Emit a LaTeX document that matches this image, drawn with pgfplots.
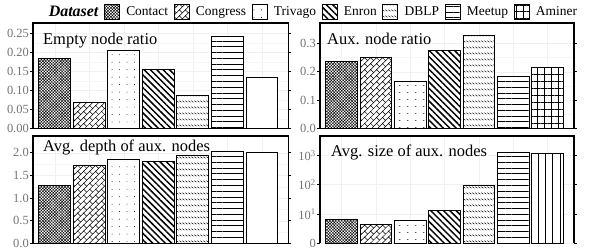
\documentclass[border=0pt]{standalone}
\usepackage{fontspec}
\setmainfont{Liberation Serif}
\usepackage{pgfplots}
\pgfplotsset{compat=1.18}
\usetikzlibrary{patterns,patterns.meta}

\pgfdeclarepattern{name=brick, type=uncolored, bottom left={\pgfpoint{-0.5pt}{-0.5pt}}, top right={\pgfpoint{6.5pt}{6.5pt}}, tile size={\pgfpoint{6pt}{6pt}}, code={\pgfsetlinewidth{0.5pt}\pgfpathmoveto{\pgfpoint{-0.5pt}{-0.5pt}}\pgfpathlineto{\pgfpoint{6.5pt}{6.5pt}}\pgfpathmoveto{\pgfpoint{3pt}{3pt}}\pgfpathlineto{\pgfpoint{0pt}{6pt}}\pgfusepath{stroke}}}
\pgfdeclarepattern{name=wavy, type=uncolored, bottom left={\pgfpointorigin}, top right={\pgfpoint{3pt}{5.5pt}}, tile size={\pgfpoint{3pt}{5.5pt}}, code={\pgfsetlinewidth{0.5pt}\pgfpathmoveto{\pgfpoint{0.3pt}{3.6pt}}\pgfpathlineto{\pgfpoint{2.4pt}{2.0pt}}\pgfusepath{stroke}}}
\pgfdeclarepattern{name=dashes, type=uncolored, bottom left={\pgfpointorigin}, top right={\pgfpoint{7.5pt}{7pt}}, tile size={\pgfpoint{7.5pt}{7pt}}, code={\pgfsetlinewidth{0.5pt}\pgfpathmoveto{\pgfpoint{3pt}{3.5pt}}\pgfpathlineto{\pgfpoint{4.8pt}{3.5pt}}\pgfusepath{stroke}}}

\tikzset{
  pContact/.style={fill=white, postaction={pattern={Hatch[angle=45, distance=2.1pt, line width=0.45pt]}}},
  pCongress/.style={fill=white, postaction={pattern=brick}},
  pTrivago/.style={fill=white, postaction={pattern={Dots[distance=7.5pt, radius=0.45pt]}}},
  pTrivagoD/.style={fill=white, postaction={pattern=dashes}},
  pEnron/.style={fill=white, postaction={pattern={Lines[angle=-45, distance=4.5pt, line width=1.5pt]}}},
  pDBLP/.style={fill=white, postaction={pattern=wavy}},
  pMeetup/.style={fill=white, postaction={pattern={Lines[angle=0, distance=5.8pt, line width=0.8pt]}}},
  pAminerGrid/.style={fill=white, postaction={pattern={Hatch[angle=0, distance=7pt, line width=0.8pt]}}},
  pAminerV/.style={fill=white, postaction={pattern={Lines[angle=90, distance=7.3pt, line width=0.8pt]}}},
  pAminerW/.style={fill=white},
}
\newcommand{\titlefont}{\fontsize{16.5}{19}\selectfont}

\pgfplotsset{
  panel/.style={
    scale only axis, anchor=north west,
    xmin=-0.63, xmax=6.77, ymin=0,
    xtick={0,1,2,3,4,5,6}, xticklabels={}, xtick style={draw=none},
    xmajorgrids, ymajorgrids,
    grid style={gray!12, line width=0.5pt},
    minor grid style={gray!7, line width=0.4pt},
    axis line style={line width=1.5bp, black},
    tick align=outside, major tick length=3bp, minor tick length=0pt,
    ytick style={black, line width=0.7pt},
    yticklabel style={color=black!55, font=\fontsize{12.5}{14}\selectfont, inner sep=1bp},
    /pgf/number format/assume math mode=true,
  },
  bars/.style={ybar, bar shift=0pt, bar width=0.92, draw=black, line width=1pt, forget plot},
}

\begin{document}
\begin{tikzpicture}
\path[use as bounding box] (0,0) rectangle (589bp,-249bp);

% top left
\begin{axis}[panel, at={(33bp,-23bp)}, width=255.5bp, height=105.5bp,
  ymax=0.277, ytick={0,0.05,0.1,0.15,0.2,0.25}, minor y tick num=1, yminorgrids,
  yticklabel style={/pgf/number format/.cd, fixed, fixed zerofill, precision=2},
  legend image code/.code={\draw[#1, line width=1pt] (0bp,-7.5bp) rectangle (15bp,7.5bp);},
  legend style={at={(1.085,1.104)}, anchor=center, draw=none, fill=none,
    legend columns=-1, font=\fontsize{13.5}{15}\selectfont,
    nodes={inner sep=1bp},
    /tikz/every even column/.append style={column sep=4.5bp},
    /tikz/every odd column/.append style={column sep=5.4bp}},
]
\addplot[bars, pContact]  coordinates {(0,0.184)};
\addplot[bars, pCongress] coordinates {(1,0.068)};
\addplot[bars, pTrivago]  coordinates {(2,0.2035)};
\addplot[bars, pEnron]    coordinates {(3,0.155)};
\addplot[bars, pDBLP]     coordinates {(4,0.087)};
\addplot[bars, pMeetup]   coordinates {(5,0.242)};
\addplot[bars, pAminerW]  coordinates {(6,0.135)};
\addlegendimage{empty legend}\addlegendentry{\fontsize{16}{18}\selectfont\bfseries\itshape Dataset}
\addlegendimage{pContact}\addlegendentry{Contact}
\addlegendimage{pCongress}\addlegendentry{Congress}
\addlegendimage{pTrivago}\addlegendentry{Trivago}
\addlegendimage{pEnron}\addlegendentry{Enron}
\addlegendimage{pDBLP}\addlegendentry{DBLP}
\addlegendimage{pMeetup}\addlegendentry{Meetup}
\addlegendimage{pAminerGrid}\addlegendentry{Aminer}
\node[anchor=north west, inner sep=0pt, font=\titlefont] at ([xshift=10bp,yshift=-10bp]rel axis cs:0,1) {Empty node ratio};
\end{axis}

% top right
\begin{axis}[panel, at={(320bp,-23bp)}, width=254bp, height=105.5bp,
  ymax=0.372, ytick={0,0.1,0.2,0.3}, minor y tick num=1, yminorgrids,
  yticklabel style={/pgf/number format/.cd, fixed, fixed zerofill, precision=1},
]
\addplot[bars, pContact]    coordinates {(0,0.2376)};
\addplot[bars, pCongress]   coordinates {(1,0.249)};
\addplot[bars, pTrivagoD]   coordinates {(2,0.167)};
\addplot[bars, pEnron]      coordinates {(3,0.275)};
\addplot[bars, pDBLP]       coordinates {(4,0.327)};
\addplot[bars, pMeetup]     coordinates {(5,0.1835)};
\addplot[bars, pAminerGrid] coordinates {(6,0.215)};
\node[anchor=north west, inner sep=0pt, font=\titlefont] at ([xshift=7bp,yshift=-10bp]rel axis cs:0,1) {Aux. node ratio};
\end{axis}

% bottom left
\begin{axis}[panel, at={(33bp,-136bp)}, width=255.5bp, height=107.5bp,
  ymax=2.37, ytick={0,0.5,1,1.5,2}, minor y tick num=1, yminorgrids,
  yticklabel style={/pgf/number format/.cd, fixed, fixed zerofill, precision=1},
]
\addplot[bars, pContact]  coordinates {(0,1.279)};
\addplot[bars, pCongress] coordinates {(1,1.728)};
\addplot[bars, pTrivago]  coordinates {(2,1.86)};
\addplot[bars, pEnron]    coordinates {(3,1.80)};
\addplot[bars, pDBLP]     coordinates {(4,1.934)};
\addplot[bars, pMeetup]   coordinates {(5,2.02)};
\addplot[bars, pAminerW]  coordinates {(6,2.007)};
\node[anchor=north west, inner sep=0pt, font=\titlefont] at ([xshift=10bp,yshift=-4bp]rel axis cs:0,1) {Avg. depth of aux. nodes};
\end{axis}

% bottom right
\begin{axis}[panel, at={(320bp,-136bp)}, width=254bp, height=107.5bp,
  ymode=log, log origin=0, ymin=0.99, ymax=4570,
  ytick={10,100,1000}, yticklabels={10\textsuperscript{1},10\textsuperscript{2},10\textsuperscript{3}},
  extra y ticks={1}, extra y tick labels={0},
  extra y tick style={yticklabel style={color=black!55}},
  minor ytick={},
]
\addplot[bars, pContact]  coordinates {(0,6.6)};
\addplot[bars, pCongress] coordinates {(1,4.3)};
\addplot[bars, pTrivagoD] coordinates {(2,6.2)};
\addplot[bars, pEnron]    coordinates {(3,13.3)};
\addplot[bars, pDBLP]     coordinates {(4,95)};
\addplot[bars, pMeetup]   coordinates {(5,1300)};
\addplot[bars, pAminerV]  coordinates {(6,1170)};
\node[anchor=north west, inner sep=0pt, font=\titlefont] at ([xshift=11bp,yshift=-9bp]rel axis cs:0,1) {Avg. size of aux. nodes};
\end{axis}
\end{tikzpicture}
\end{document}
